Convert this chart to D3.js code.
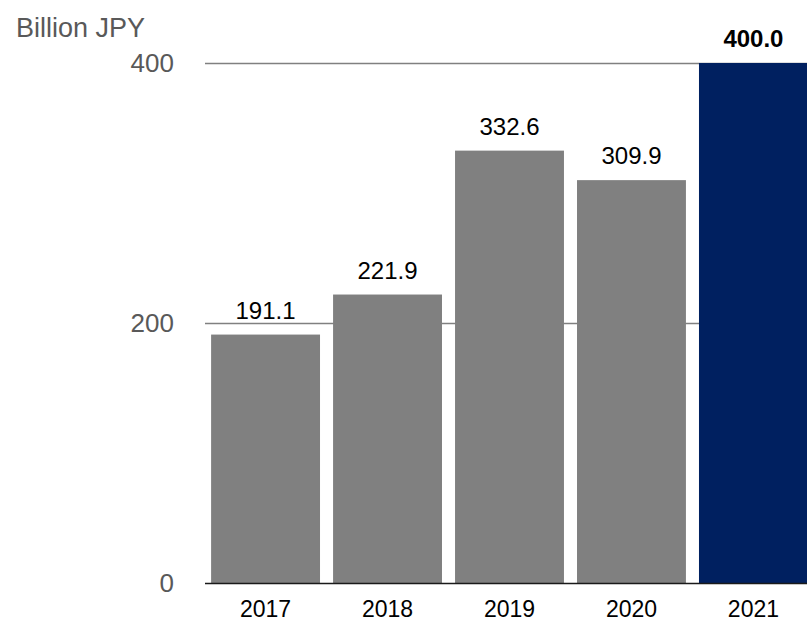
<!DOCTYPE html>
<html>
<head>
<meta charset="utf-8">
<script src="https://cdn.jsdelivr.net/npm/d3@7"></script>
<style>
  html, body { margin: 0; padding: 0; background: #ffffff; overflow: hidden; }
  svg { display: block; font-family: "Liberation Sans", Arial, sans-serif; }
</style>
</head>
<body>
<svg id="chart" width="807" height="622"></svg>
<script>
// Revenue by fiscal year, billion JPY
const years = ["2017", "2018", "2019", "2020", "2021"];
const values = [191.1, 221.9, 332.6, 309.9, 400.0];
const yTicks = [0, 200, 400];
const unitLabel = "Billion JPY";

const svg = d3.select("#chart");
const x0 = 205, x1 = 814;
const yBase = 583, yTop = 63;

const x = d3.scaleBand()
  .domain(years)
  .range([x0, x1])
  .paddingInner(0.107)
  .paddingOuter(0.05);

const y = d3.scaleLinear()
  .domain([0, 400])
  .range([yBase, yTop]);

// horizontal gridlines (non-zero ticks)
svg.append("g")
  .selectAll("line")
  .data(yTicks.filter(d => d !== 0))
  .join("line")
  .attr("x1", x0)
  .attr("x2", 807)
  .attr("y1", d => y(d) + 0.5)
  .attr("y2", d => y(d) + 0.5)
  .attr("stroke", "#808080")
  .attr("stroke-width", 1.3);

// y tick labels
svg.append("g")
  .selectAll("text")
  .data(yTicks)
  .join("text")
  .attr("x", 174)
  .attr("y", d => y(d))
  .attr("dy", "0.35em")
  .attr("text-anchor", "end")
  .attr("font-size", 26)
  .attr("fill", "#595959")
  .text(d => d);

// unit label
svg.append("text")
  .attr("x", 16)
  .attr("y", 37)
  .attr("font-size", 27)
  .attr("fill", "#595959")
  .text(unitLabel);

// bars
svg.append("g")
  .selectAll("rect")
  .data(values)
  .join("rect")
  .attr("x", (d, i) => x(years[i]))
  .attr("width", x.bandwidth())
  .attr("y", d => y(d))
  .attr("height", d => yBase - y(d))
  .attr("fill", (d, i) => i === years.length - 1 ? "#002060" : "#808080");

// baseline
svg.append("line")
  .attr("x1", x0)
  .attr("x2", 807)
  .attr("y1", yBase + 0.5)
  .attr("y2", yBase + 0.5)
  .attr("stroke", "#1a1a1a")
  .attr("stroke-width", 1.5);

// value labels
svg.append("g")
  .selectAll("text")
  .data(values)
  .join("text")
  .attr("x", (d, i) => x(years[i]) + x.bandwidth() / 2)
  .attr("y", d => y(d) - 16)
  .attr("text-anchor", "middle")
  .attr("font-size", 24)
  .attr("font-weight", (d, i) => i === years.length - 1 ? "bold" : "normal")
  .attr("fill", "#000000")
  .text(d => d.toFixed(1));

// category labels
svg.append("g")
  .selectAll("text")
  .data(years)
  .join("text")
  .attr("x", d => x(d) + x.bandwidth() / 2)
  .attr("y", 617)
  .attr("text-anchor", "middle")
  .attr("font-size", 23)
  .attr("fill", "#000000")
  .text(d => d);
</script>
</body>
</html>
